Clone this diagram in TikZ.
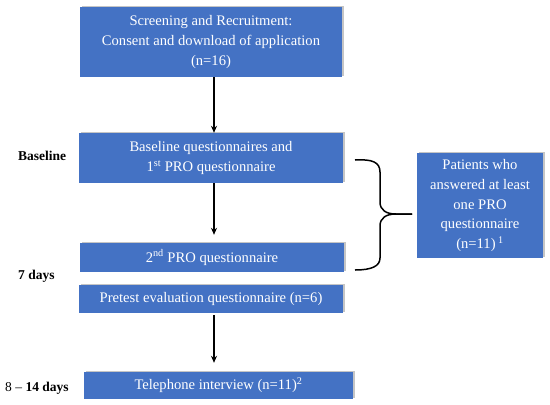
\documentclass[tikz,border=0pt]{standalone}
\usepackage{fontspec}
\setmainfont{Liberation Serif}
\usetikzlibrary{arrows.meta,shadows}
\definecolor{boxblue}{RGB}{68,114,196}
\tikzset{
  box/.style={fill=boxblue, text=white, align=center, inner sep=0pt,
    font=\fontsize{14.6}{19.8}\selectfont,
    drop shadow={shadow xshift=2pt, shadow yshift=1.5pt, fill=black!45, opacity=0.5}},
  lab/.style={font=\fontsize{13.5}{15}\selectfont, text=black, inner sep=0pt},
  arr/.style={draw=black, line width=1.2pt, -{Stealth[length=7pt,width=6pt]}},
  brace/.style={draw=black, line width=1.5pt, line join=round},
}
\begin{document}
\begin{tikzpicture}[x=1pt,y=-1pt]
\useasboundingbox (0,0) rectangle (550,405);
\node[box, minimum width=262pt, minimum height=70pt] (b1) at (211,42)
  {Screening and Recruitment:\\Consent and download of application\\(n=16)};
\node[box, minimum width=264pt, minimum height=50pt] (b2) at (211,158)
  {Baseline questionnaires and\\1\textsuperscript{st} PRO questionnaire};
\node[box, minimum width=264pt, minimum height=29pt] (b3) at (212,257.5)
  {2\textsuperscript{nd} PRO questionnaire};
\node[box, minimum width=264pt, minimum height=28pt] (b4) at (211,299)
  {Pretest evaluation questionnaire (n=6)};
\node[box, minimum width=269pt, minimum height=27pt] (b5) at (218.5,385.5)
  {Telephone interview (n=11)\textsuperscript{2}};
\node[box, minimum width=126pt, minimum height=105pt] (r) at (480,205.5)
  {Patients who\\answered at least\\one PRO\\questionnaire\\(n=11)\,\textsuperscript{1}};

\node[lab, anchor=west] (l1) at (18,156) {\textbf{Baseline}};
\node[lab, anchor=west] (l2) at (18,276) {\textbf{7 days}};
\node[lab, anchor=west] (l3) at (5,388) {8 -- \textbf{14 days}};

\draw[arr] ([xshift=3pt]b1.south) -- ([xshift=3pt]b2.north);
\draw[arr, shorten >=8pt] ([xshift=3pt]b2.south) -- ([xshift=2pt]b3.north);
\draw[arr, shorten <=2pt, shorten >=9pt] ([xshift=3pt]b4.south) -- ([xshift=-4.5pt]b5.north);

\coordinate (bt) at (355,160);
\coordinate (bb) at (355,270);
\coordinate (tip) at (412,214);
\draw[brace] (bt) .. controls (372,159) and (380,162) .. (380,172) -- (380,202)
  .. controls (380,210) and (386,214) .. (396,214) -- (tip);
\draw[brace] (tip) -- (396,214) .. controls (386,214) and (380,218) .. (380,226)
  -- (380,258) .. controls (380,266) and (372,270) .. (bb);
\end{tikzpicture}
\end{document}
